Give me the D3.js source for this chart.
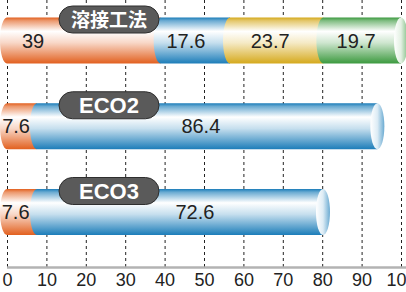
<!DOCTYPE html>
<html><head><meta charset="utf-8">
<script src="https://cdn.jsdelivr.net/npm/d3@7"></script>
<style>html,body{margin:0;padding:0;background:#fff;}svg{display:block;}</style>
</head><body>
<svg id="c" width="406" height="292"></svg>
<script>
const categories = ["溶接工法", "ECO2", "ECO3"];
const series0 = [39, 7.6, 7.6];
const series1 = [17.6, 86.4, 72.6];
const series2 = [23.7, 0, 0];
const series3 = [19.7, 0, 0];
const ticks = [0, 10, 20, 30, 40, 50, 60, 70, 80, 90, 100];
// label anchor positions (in value units), separate from data
const labelAt = [[6.6, 45.4, 66.8, 88.6], [2.3, 49.2], [2.2, 47.7]];

const colors = ["#e2601f", "#1c7db9", "#d5a91c", "#3c9a3f"];
const svg = d3.select("#c");
const x = d3.scaleLinear().domain([0, 100]).range([7, 401]);
const y = d3.scalePoint().domain(categories).range([40.5, 212]);
const bh = 46, rx = 7;

const defs = svg.append("defs");
colors.forEach((c, i) => {
  const g = defs.append("linearGradient").attr("id", "g" + i).attr("x1", 0).attr("y1", 0).attr("x2", 0).attr("y2", 1);
  const lc = d3.interpolateRgb(c, "#fff");
  [[0, c], [0.07, lc(0.35)], [0.3, "#fff"], [0.55, lc(0.75)], [0.85, lc(0.25)], [1, c]].forEach(s =>
    g.append("stop").attr("offset", s[0]).attr("stop-color", s[1]));
  const h = defs.append("linearGradient").attr("id", "h" + i).attr("x1", 0).attr("y1", 0).attr("x2", 1).attr("y2", 0);
  [[0, "#fff"], [0.5, lc(0.85)], [1, lc(0.35)]].forEach(s =>
    h.append("stop").attr("offset", s[0]).attr("stop-color", s[1]));
});

// gridlines
svg.append("g").selectAll("line").data(ticks).join("line")
  .attr("x1", d => x(d) + 0.5).attr("x2", d => x(d) + 0.5)
  .attr("y1", 0).attr("y2", 267)
  .attr("stroke", "#222").attr("stroke-width", 1).attr("stroke-dasharray", "3,3");

// axis
const ax = svg.append("g").attr("transform", "translate(0,267.5)")
  .call(d3.axisBottom(x).tickValues(ticks).tickSize(0).tickPadding(6));
ax.select(".domain").attr("stroke", "#b3b3b3").attr("stroke-width", 2.5).attr("d", "M7,0H406");
ax.selectAll("text").attr("font-family", "Liberation Sans, Arial, sans-serif").attr("font-size", 18).attr("fill", "#222");

const series = [series0, series1, series2, series3];
categories.forEach((cat, r) => {
  const top = y(cat) - bh / 2, bot = y(cat) + bh / 2;
  const g = svg.append("g");
  let acc = 0;
  const segs = [];
  series.forEach((s, i) => {
    const v = s[r];
    if (v > 0) { segs.push({ i, x0: acc, x1: acc + v, v }); acc += v; }
  });
  segs.forEach((sg, k) => {
    const a = x(sg.x0), b = x(sg.x1);
    const p = `M${a},${top}H${b}V${bot}H${a}A${rx},${bh / 2} 0 0 1 ${a},${top}Z`;
    g.append("path").attr("d", p).attr("fill", `url(#g${sg.i})`);
    if (k === segs.length - 1) {
      g.append("ellipse").attr("cx", b).attr("cy", y(cat)).attr("rx", rx).attr("ry", bh / 2)
        .attr("fill", `url(#h${sg.i})`);
    }
  });
  segs.forEach((sg, k) => {
    g.append("text").attr("x", x(labelAt[r][k])).attr("y", y(cat) + 7)
      .attr("text-anchor", "middle").attr("font-family", "Liberation Sans, Arial, sans-serif")
      .attr("font-size", 20).attr("fill", "#222").text(sg.v);
  });
  // pill
  const pc = top + 2;
  g.append("rect").attr("x", 59).attr("y", pc - 13.5).attr("width", 100).attr("height", 27)
    .attr("rx", 13.5).attr("fill", "#5a5a5a").attr("stroke", "#2e2e2e").attr("stroke-width", 1);
  g.append("text").attr("x", 109).attr("y", pc + 7.5).attr("text-anchor", "middle")
    .attr("font-family", r === 0 ? "Noto Sans CJK JP, sans-serif" : "Liberation Sans, Arial, sans-serif")
    .attr("font-weight", "bold").attr("font-size", r === 0 ? 19 : 22).attr("fill", "#fff").text(cat);
});
</script>
</body></html>
